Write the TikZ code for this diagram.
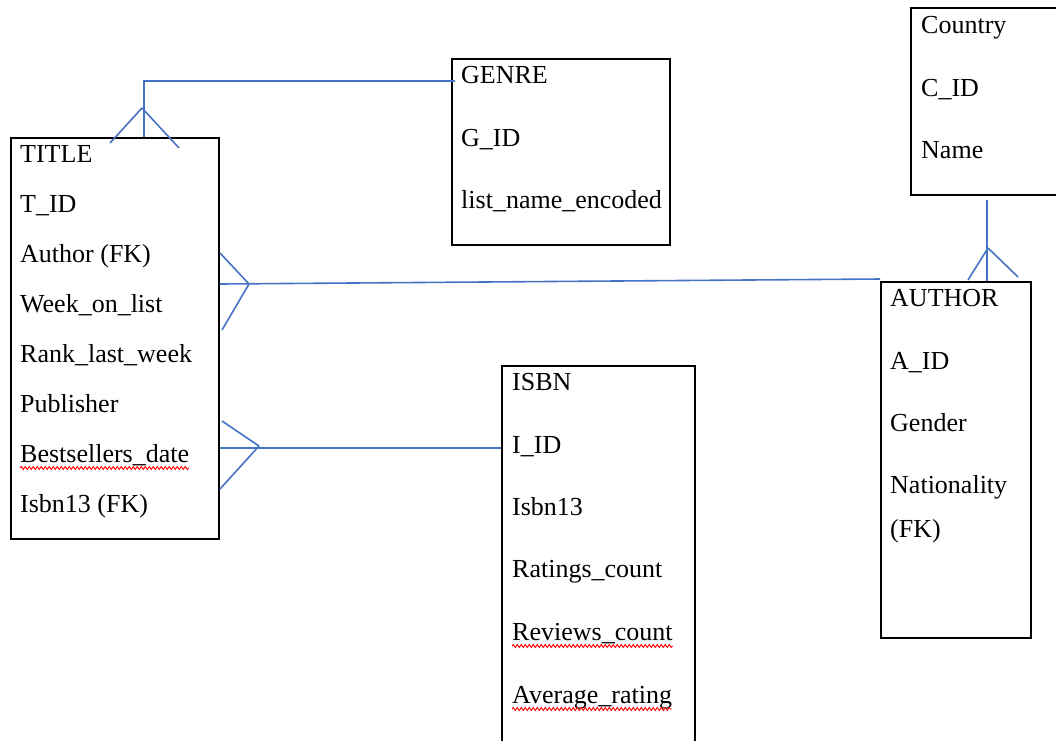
\documentclass[tikz,border=0pt]{standalone}
\usepackage{fontspec}
\setmainfont{Liberation Serif}
\usepackage{xcolor}
\usetikzlibrary{positioning, decorations.pathmorphing}
\definecolor{linkblue}{RGB}{68,114,196}
\tikzstyle{entity} = [rectangle, draw=black, line width=1.7pt, anchor=north west, inner sep=0pt]
\tikzstyle{field} = [anchor=base west, inner sep=0pt, font=\fontsize{26}{30}\selectfont]
\tikzstyle{link} = [draw=linkblue, line width=1.6pt]
\tikzstyle{typo} = [draw=red, line width=0.9pt, decorate, decoration={snake, amplitude=1.5pt, segment length=4pt}]

\begin{document}
\begin{tikzpicture}[x=1pt, y=-1pt]
  \useasboundingbox (0,0) rectangle (1056,740);

  % Entity boxes
  \node (title) [entity, minimum width=208pt, minimum height=401pt] at (10,137) {};
  \node (genre) [entity, minimum width=218pt, minimum height=186pt] at (451,58) {};
  \node (country) [entity, minimum width=160pt, minimum height=187pt] at (910,7) {};
  \node (author) [entity, minimum width=150pt, minimum height=356pt] at (880,281) {};
  \node (isbn) [entity, minimum width=193pt, minimum height=400pt] at (501,365) {};

  % Fields of TITLE
  \node (ttitle) [field] at (20,162) {TITLE};
  \node (tid) [field] at (20,212) {T\_ID};
  \node (tauthor) [field] at (20,262) {Author (FK)};
  \node (tweek) [field] at (20,312) {Week\_on\_list};
  \node (trank) [field] at (20,362) {Rank\_last\_week};
  \node (tpub) [field] at (20,412) {Publisher};
  \node (tdate) [field] at (20,462) {Bestsellers\_date};
  \node (tisbn) [field] at (20,512) {Isbn13 (FK)};

  % Fields of GENRE
  \node (ggenre) [field] at (461,83) {GENRE};
  \node (gid) [field] at (461,146) {G\_ID};
  \node (glist) [field] at (461,208) {list\_name\_encoded};

  % Fields of Country
  \node (ccountry) [field] at (921,33) {Country};
  \node (cid) [field] at (921,96) {C\_ID};
  \node (cname) [field] at (921,158) {Name};

  % Fields of AUTHOR
  \node (aauthor) [field] at (890,306) {AUTHOR};
  \node (aid) [field] at (890,369) {A\_ID};
  \node (agender) [field] at (890,431) {Gender};
  \node (anat) [field] at (890,493) {Nationality};
  \node (afk) [field] at (890,537) {(FK)};

  % Fields of ISBN
  \node (iisbn) [field] at (512,390) {ISBN};
  \node (iid) [field] at (512,453) {I\_ID};
  \node (inum) [field] at (512,515) {Isbn13};
  \node (iratings) [field] at (512,577) {Ratings\_count};
  \node (ireviews) [field] at (512,640) {Reviews\_count};
  \node (iaverage) [field] at (512,703) {Average\_rating};

  % Spell check marks
  \draw [typo] ([yshift=-6pt]tdate.base west) -- ([yshift=-6pt]tdate.base east);
  \draw [typo] ([yshift=-6pt]ireviews.base west) -- ([yshift=-6pt]ireviews.base east);
  \draw [typo] ([yshift=-6pt]iaverage.base west) -- ([yshift=-6pt]iaverage.base east);

  % Corner points of the connectors
  \coordinate (gend) at (455,81);
  \coordinate (gbend) at (144,81);
  \coordinate (gfoot) at (142,108);
  \coordinate (afoot) at (249,284);
  \coordinate (ifoot) at (259,446);
  \coordinate (ctop) at (987,200);
  \coordinate (cfoot) at (988,248);

  % TITLE - GENRE
  \draw [link] (gend) -- (gbend) -- (gbend |- title.north);
  \draw [link] (gfoot) -- ++(-32,35);
  \draw [link] (gfoot) -- ++(37,40);

  % TITLE - AUTHOR
  \draw [link] (title.east |- afoot) -- (author.west |- 0,279);
  \draw [link] (afoot) -- ++(-29,-31);
  \draw [link] (afoot) -- ++(-27,46);

  % TITLE - ISBN
  \draw [link] (title.east |- 0,448) -- (isbn.west |- 0,448);
  \draw [link] (ifoot) -- ++(-37,-25);
  \draw [link] (ifoot) -- ++(-39,43);

  % Country - AUTHOR
  \draw [link] (ctop) -- (ctop |- author.north);
  \draw [link] (cfoot) -- ++(-20,32);
  \draw [link] (cfoot) -- ++(30,29);

\end{tikzpicture}
\end{document}
